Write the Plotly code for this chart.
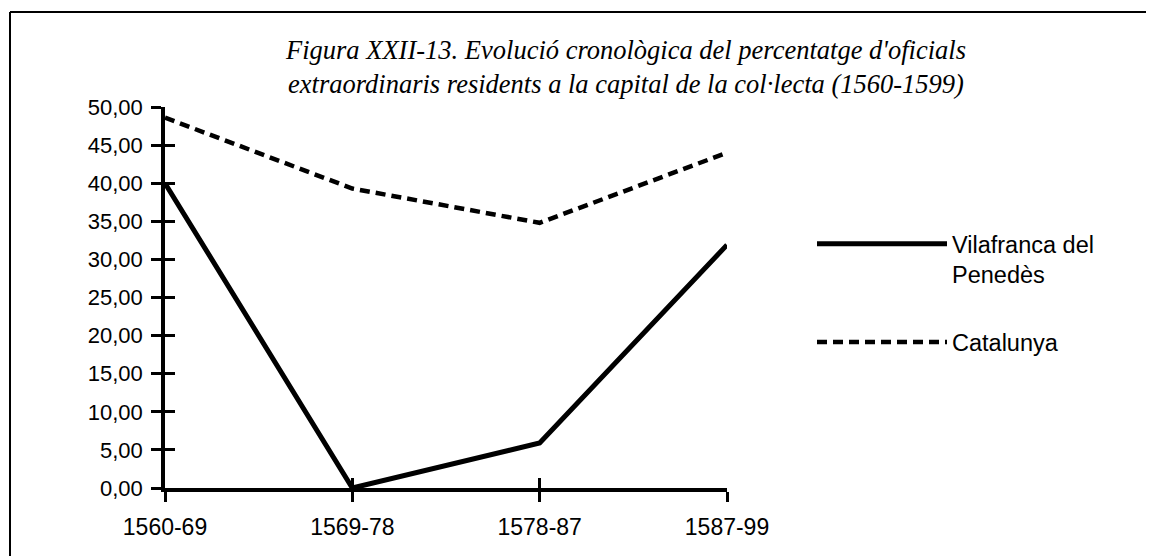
import plotly.graph_objects as go

categories = ["1560-69", "1569-78", "1578-87", "1587-99"]
vilafranca = [40.0, 0.0, 5.9, 31.9]
catalunya = [48.6, 39.3, 34.8, 44.0]
y_ticks = [0, 5, 10, 15, 20, 25, 30, 35, 40, 45, 50]

title_lines = [
    "Figura XXII-13. Evolució cronològica del percentatge d'oficials",
    "extraordinaris residents a la capital de la col·lecta (1560-1599)",
]

W, H = 1158, 556
OFF = 8  # page body margin of the browser
L, R, T, B = 165 - OFF, 727 - OFF, 107 - OFF, 488 - OFF

fig = go.Figure()
fig.add_trace(go.Scatter(
    x=categories, y=vilafranca, mode="lines", name="Vilafranca del<br>Penedès",
    line=dict(color="black", width=5), legendgroup="a",
))
fig.add_trace(go.Scatter(
    x=categories, y=catalunya, mode="lines", name="Catalunya",
    line=dict(color="black", width=4.5, dash="10px,6px"), legendgroup="b",
))

pw = R - L
ph = B - T
def px(x):
    return (x - L) / pw
def py(y):
    return (B - y) / ph

fig.update_layout(
    width=W, height=H,
    margin=dict(l=L, r=W - R, t=T, b=H - B, pad=0),
    paper_bgcolor="white", plot_bgcolor="white",
    separators=",.",
    font=dict(family="Liberation Sans, Arial, sans-serif", size=22, color="black"),
    title=dict(
        text="<i>" + "<br>".join(title_lines) + "</i>",
        x=(626 - OFF) / W, xanchor="center", y=1 - 51 / H, yanchor="middle",
        font=dict(family="Liberation Serif, Times New Roman, serif", size=26.5, color="black"),
    ),
    showlegend=True,
    legend=dict(
        x=px(804), xanchor="left", y=py(214), yanchor="top",
        itemwidth=130, valign="top", tracegroupgap=34,
        font=dict(size=23.5, color="black"), bgcolor="rgba(0,0,0,0)",
    ),
    xaxis=dict(
        type="category", range=[0, 3], showgrid=False, zeroline=False,
        showline=True, linecolor="black", linewidth=3.5,
        ticks="outside", ticklen=10, tickwidth=3, tickcolor="black",
        tickson="labels", ticklabelstandoff=6,
        tickfont=dict(size=23),
    ),
    yaxis=dict(
        range=[0, 50], tickvals=y_ticks, tickformat=".2f", showgrid=False, zeroline=False,
        showline=True, linecolor="black", linewidth=3.5,
        ticks="outside", ticklen=10, tickwidth=3, tickcolor="black",
        ticklabelstandoff=4, tickfont=dict(size=22),
    ),
    yaxis2=dict(
        range=[0, 50], tickvals=y_ticks, overlaying="y", side="left", anchor="x",
        showgrid=False, zeroline=False, showline=False, showticklabels=False,
        ticks="inside", ticklen=10, tickwidth=3, tickcolor="black",
    ),
    xaxis2=dict(
        type="category", range=[0, 3], overlaying="x", side="bottom", anchor="y",
        showgrid=False, zeroline=False, showline=False, showticklabels=False,
        ticks="inside", ticklen=10, tickwidth=3, tickcolor="black",
        categoryarray=categories, categoryorder="array",
    ),
    shapes=[
        dict(type="line", xref="paper", yref="paper", x0=px(2), x1=px(1138), y0=py(4), y1=py(4),
             line=dict(color="black", width=2)),
        dict(type="line", xref="paper", yref="paper", x0=px(2), x1=px(2), y0=py(4), y1=py(556),
             line=dict(color="black", width=2)),
    ],
)
# invisible trace to activate the overlaying tick axes
fig.add_trace(go.Scatter(x=categories, y=[None] * len(categories), xaxis="x2", yaxis="y2",
                         showlegend=False, hoverinfo="skip", mode="lines"))

fig.write_html("out.html")
